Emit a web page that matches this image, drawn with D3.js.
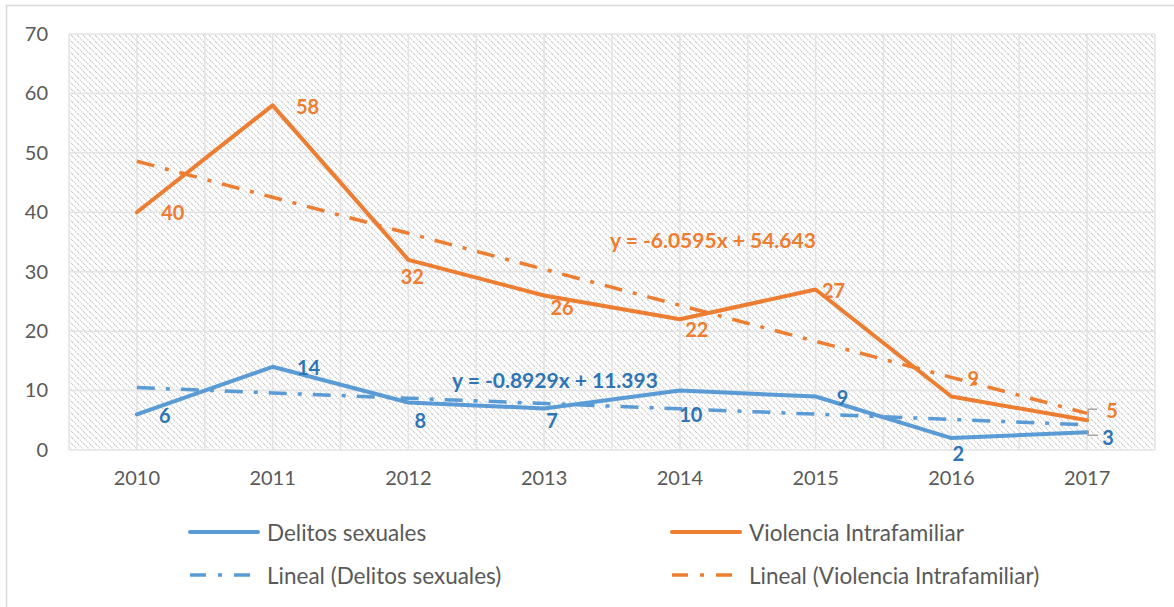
<!DOCTYPE html>
<html lang="es">
  <head>
    <meta charset="utf-8">
    <title>Delitos sexuales y Violencia Intrafamiliar</title>
    <script src="https://d3js.org/d3.v7.min.js"></script>
    <style>
      body { margin: 0; background: #fff; }
      svg { display: block; font-family: Lato, "Open Sans", sans-serif; }
    </style>
  </head>
  <body>
    <div id="chart"></div>
    <script>
      // data
      var years = ["2010", "2011", "2012", "2013", "2014", "2015", "2016", "2017"];
      var delitos = [6, 14, 8, 7, 10, 9, 2, 3];
      var violencia = [40, 58, 32, 26, 22, 27, 9, 5];
      var yTicks = [0, 10, 20, 30, 40, 50, 60, 70];
      // trendline coefficients as printed on the chart (x = 1..8)
      var trendSlope = [-0.8929, -6.0595];
      var trendIntercept = [11.393, 54.643];
      var trendText = ["y = -0.8929x + 11.393", "y = -6.0595x + 54.643"];
      var seriesNames = ["Delitos sexuales", "Violencia Intrafamiliar"];

      // label placement (pixels from the point)
      var delitosOffsets = [[28, 1], [36, 0], [12, 18], [8, 12], [11, 23], [27, 0], [7, 15], [21, 5]];
      var violenciaOffsets = [[36, 0], [35, 1], [4, 16], [18, 12], [17, 10], [18, 0], [22, -19], [25, -10]];

      var W = 1174, H = 607;
      var margin = {left: 69, right: 19, top: 34, bottom: 157};
      var blue = "#5B9BD5", orange = "#ED7D31";
      var blueText = "#2E75B6", orangeText = "#ED7D31";

      var svg = d3.select("#chart").append("svg")
        .attr("width", W)
        .attr("height", H);

      // outer chart frame
      svg.append("rect")
        .attr("x", 6.5).attr("y", 5.5)
        .attr("width", W + 10).attr("height", H + 10)
        .attr("fill", "#fff")
        .attr("stroke", "#d9d9d9")
        .attr("stroke-width", 1.5);

      var defs = svg.append("defs");
      var pat = defs.append("pattern")
        .attr("id", "hatch")
        .attr("patternUnits", "userSpaceOnUse")
        .attr("width", 6).attr("height", 6);
      pat.append("rect").attr("width", 6).attr("height", 6).attr("fill", "#fff");
      pat.append("path")
        .attr("d", "M0,0L6,6M-1,5L1,7M5,-1L7,1")
        .attr("stroke", "#c4c4c4")
        .attr("stroke-width", 1.1)
        .attr("stroke-dasharray", "1.4,1");

      var x = d3.scaleBand().domain(years).range([margin.left, W - margin.right]);
      var y = d3.scaleLinear().domain([0, 70]).range([H - margin.bottom, margin.top]);
      var xc = function(i) { return x(years[i]) + x.bandwidth() / 2; };

      // plot area with hatch
      svg.append("rect")
        .attr("x", margin.left).attr("y", margin.top)
        .attr("width", W - margin.left - margin.right)
        .attr("height", H - margin.top - margin.bottom)
        .attr("fill", "url(#hatch)");

      // gridlines (horizontal at ticks, vertical at every half category)
      svg.append("g").selectAll("line").data(yTicks).enter().append("line")
        .attr("x1", margin.left).attr("x2", W - margin.right)
        .attr("y1", function(d) { return y(d); })
        .attr("y2", function(d) { return y(d); })
        .attr("stroke", "#e3e3e3").attr("stroke-width", 1.5);
      var vx = [];
      years.forEach(function(d, i) { vx.push(x(d)); vx.push(xc(i)); });
      vx.push(x.range()[1]);
      svg.append("g").selectAll("line").data(vx).enter().append("line")
        .attr("x1", function(d) { return d; }).attr("x2", function(d) { return d; })
        .attr("y1", margin.top).attr("y2", H - margin.bottom)
        .attr("stroke", "#e3e3e3").attr("stroke-width", 1.5);

      // axes
      var yAxis = svg.append("g")
        .attr("transform", "translate(" + (margin.left - 21) + ",0)")
        .call(d3.axisLeft(y).tickValues(yTicks).tickSize(0).tickPadding(0));
      yAxis.select(".domain").remove();
      yAxis.selectAll("text").attr("font-size", 20).attr("fill", "#595959")
        .attr("font-family", "Lato, sans-serif");

      var xAxis = svg.append("g")
        .attr("transform", "translate(0," + (H - margin.bottom) + ")")
        .call(d3.axisBottom(x).tickSize(0).tickPadding(21));
      xAxis.select(".domain").remove();
      xAxis.selectAll("text").attr("font-size", 20).attr("fill", "#595959")
        .attr("font-family", "Lato, sans-serif");

      var line = d3.line()
        .x(function(d, i) { return xc(i); })
        .y(function(d) { return y(d); });
      var dashDot = "18,11,4,11";

      // trendlines
      [0, 1].forEach(function(s) {
        var pts = years.map(function(d, i) { return trendSlope[s] * (i + 1) + trendIntercept[s]; });
        svg.append("path")
          .datum(pts)
          .attr("d", line)
          .attr("fill", "none")
          .attr("stroke", s === 0 ? blue : orange)
          .attr("stroke-width", 3.5)
          .attr("stroke-dasharray", dashDot);
      });

      // series lines
      [delitos, violencia].forEach(function(vals, s) {
        svg.append("path")
          .datum(vals)
          .attr("d", line)
          .attr("fill", "none")
          .attr("stroke", s === 0 ? blue : orange)
          .attr("stroke-width", 4)
          .attr("stroke-linejoin", "round")
          .attr("stroke-linecap", "round");
      });

      // leader lines for the last two labels
      var last = years.length - 1;
      var lx = xc(last);
      svg.append("path")
        .attr("d", "M" + (lx + 1) + "," + (y(violencia[last]) - 2) + "V" + (y(violencia[last]) - 11) + "H" + (lx + 10))
        .attr("fill", "none").attr("stroke", "#a6a6a6").attr("stroke-width", 1.5);
      svg.append("path")
        .attr("d", "M" + (lx + 1) + "," + (y(delitos[last]) - 2) + "V" + (y(delitos[last]) + 3) + "H" + (lx + 11))
        .attr("fill", "none").attr("stroke", "#a6a6a6").attr("stroke-width", 1.5);

      // data labels
      function labels(vals, offs, col) {
        svg.append("g").selectAll("text").data(vals).enter().append("text")
          .attr("x", function(d, i) { return xc(i) + offs[i][0]; })
          .attr("y", function(d, i) { return y(d) + offs[i][1]; })
          .attr("text-anchor", "middle")
          .attr("dominant-baseline", "central")
          .attr("font-size", 20)
          .attr("font-weight", "bold")
          .attr("fill", col)
          .text(function(d) { return d; });
      }
      labels(violencia, violenciaOffsets, orangeText);
      labels(delitos, delitosOffsets, blueText);

      // trendline equations
      svg.append("text")
        .attr("x", 452).attr("y", y(11.9))
        .attr("dominant-baseline", "central")
        .attr("font-size", 21).attr("font-weight", "bold")
        .attr("fill", blueText)
        .text(trendText[0]);
      svg.append("text")
        .attr("x", 610).attr("y", y(35.5))
        .attr("dominant-baseline", "central")
        .attr("font-size", 21).attr("font-weight", "bold")
        .attr("fill", orangeText)
        .text(trendText[1]);

      // legend
      var legendItems = [
        {name: seriesNames[0], color: blue, dash: null, lx: 190, ly: 532},
        {name: seriesNames[1], color: orange, dash: null, lx: 672, ly: 532},
        {name: "Lineal (" + seriesNames[0] + ")", color: blue, dash: dashDot, lx: 190, ly: 575},
        {name: "Lineal (" + seriesNames[1] + ")", color: orange, dash: dashDot, lx: 672, ly: 575}
      ];
      var lg = svg.append("g").selectAll("g").data(legendItems).enter().append("g");
      lg.append("line")
        .attr("x1", function(d) { return d.lx; })
        .attr("x2", function(d) { return d.lx + 68; })
        .attr("y1", function(d) { return d.ly; })
        .attr("y2", function(d) { return d.ly; })
        .attr("stroke", function(d) { return d.color; })
        .attr("stroke-width", function(d) { return d.dash ? 3.5 : 4; })
        .attr("stroke-dasharray", function(d) { return d.dash ? "16,12,4,12" : null; })
        .attr("stroke-linecap", function(d) { return d.dash ? "butt" : "round"; });
      lg.append("text")
        .attr("x", function(d) { return d.lx + 77; })
        .attr("y", function(d) { return d.ly; })
        .attr("dominant-baseline", "central")
        .attr("font-size", 22.5)
        .attr("fill", "#595959")
        .text(function(d) { return d.name; });
    </script>
  </body>
</html>
